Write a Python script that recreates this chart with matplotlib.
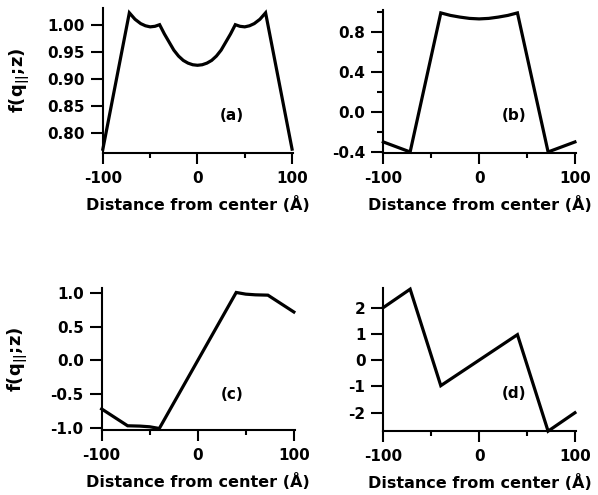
import matplotlib.pyplot as plt
from matplotlib.ticker import FixedLocator, FixedFormatter

plt.rcParams['font.family'] = ['DejaVu Sans']
plt.rcParams['font.weight'] = 'bold'
plt.rcParams['axes.unicode_minus'] = False
plt.rcParams['mathtext.fontset'] = 'custom'
plt.rcParams['mathtext.rm'] = 'DejaVu Sans:bold'
plt.rcParams['mathtext.default'] = 'rm'

# panel (a)
xa = [-100, -72, -66, -60, -55, -50, -45, -40, -35, -30, -25, -20, -15, -10, -5, 0,
      5, 10, 15, 20, 25, 30, 35, 40, 45, 50, 55, 60, 66, 72, 100]
ya = [0.770, 1.022, 1.010, 1.002, 0.998, 0.996, 0.997, 1.000, 0.983, 0.968, 0.953, 0.942, 0.934, 0.929, 0.926, 0.925,
      0.926, 0.929, 0.934, 0.942, 0.953, 0.968, 0.983, 1.000, 0.997, 0.996, 0.998, 1.002, 1.010, 1.022, 0.770]

# panel (b)
xb = [-100, -72, -40, -30, -20, -10, 0, 10, 20, 30, 40, 72, 100]
yb = [-0.30, -0.40, 0.99, 0.965, 0.948, 0.935, 0.93, 0.935, 0.948, 0.965, 0.99, -0.40, -0.30]

# panel (c)
xc = [-100, -73, -60, -50, -40, 0, 40, 50, 60, 73, 100]
yc = [-0.72, -0.97, -0.975, -0.985, -1.01, 0.0, 1.01, 0.985, 0.975, 0.97, 0.72]

# panel (d)
xd = [-100, -72, -40, 0, 40, 72, 100]
yd = [2.0, 2.70, -0.97, 0.0, 0.97, -2.70, -2.0]

panels = [
    dict(x=xa, y=ya, rect=[0.172, 0.691, 0.318, 0.293], ylim=(0.763, 1.031),
         yt=[0.80, 0.85, 0.90, 0.95, 1.00], ytl=['0.80', '0.85', '0.90', '0.95', '1.00'],
         ymin=[], tag='(a)', tpos=(36, 0.833), ylab=True),
    dict(x=xb, y=yb, rect=[0.641, 0.691, 0.322, 0.289], ylim=(-0.41, 1.02),
         yt=[-0.4, 0.0, 0.4, 0.8], ytl=['-0.4', '0.0', '0.4', '0.8'],
         ymin=[-0.2, 0.2, 0.6, 1.0], tag='(b)', tpos=(36, -0.04), ylab=False),
    dict(x=xc, y=yc, rect=[0.170, 0.131, 0.323, 0.287], ylim=(-1.035, 1.075),
         yt=[-1.0, -0.5, 0.0, 0.5, 1.0], ytl=['-1.0', '-0.5', '0.0', '0.5', '1.0'],
         ymin=[], tag='(c)', tpos=(36, -0.5), ylab=True),
    dict(x=xd, y=yd, rect=[0.641, 0.129, 0.322, 0.290], ylim=(-2.70, 2.76),
         yt=[-2, -1, 0, 1, 2], ytl=['-2', '-1', '0', '1', '2'],
         ymin=[], tag='(d)', tpos=(36, -1.27), ylab=False),
]

fig = plt.figure(figsize=(5.98, 4.95), dpi=100)

for p in panels:
    ax = fig.add_axes(p['rect'])
    ax.plot(p['x'], p['y'], color='black', lw=2.3, solid_joinstyle='miter', clip_on=False)
    ax.set_xlim(-100, 101)
    ax.set_ylim(*p['ylim'])
    for s in ['top', 'right']:
        ax.spines[s].set_visible(False)
    for s in ['left', 'bottom']:
        ax.spines[s].set_linewidth(1.5)
    ax.xaxis.set_major_locator(FixedLocator([-100, 0, 100]))
    ax.xaxis.set_minor_locator(FixedLocator([-50, 50]))
    ax.yaxis.set_major_locator(FixedLocator(p['yt']))
    ax.yaxis.set_major_formatter(FixedFormatter(p['ytl']))
    ax.yaxis.set_minor_locator(FixedLocator(p['ymin']))
    ax.tick_params(axis='x', which='major', direction='out', length=8, width=1.5, labelsize=11, pad=5)
    ax.tick_params(axis='x', which='minor', direction='out', length=3.5, width=1.5)
    ax.tick_params(axis='y', which='major', direction='out', length=8.6, width=1.5, labelsize=11, pad=4.3)
    ax.tick_params(axis='y', which='minor', direction='out', length=4.3, width=1.5)
    ax.set_xlabel('Distance from center (Å)', fontsize=11.5, fontweight='bold', labelpad=7)
    if p['ylab']:
        ax.set_ylabel(r'f(q$_{||}$;z)', fontsize=13, fontweight='bold')
        ax.yaxis.set_label_coords(-0.37, 0.5)
    ax.text(p['tpos'][0], p['tpos'][1], p['tag'], fontsize=11, fontweight='bold',
            ha='center', va='center')

fig.savefig('out.png', dpi=100)
